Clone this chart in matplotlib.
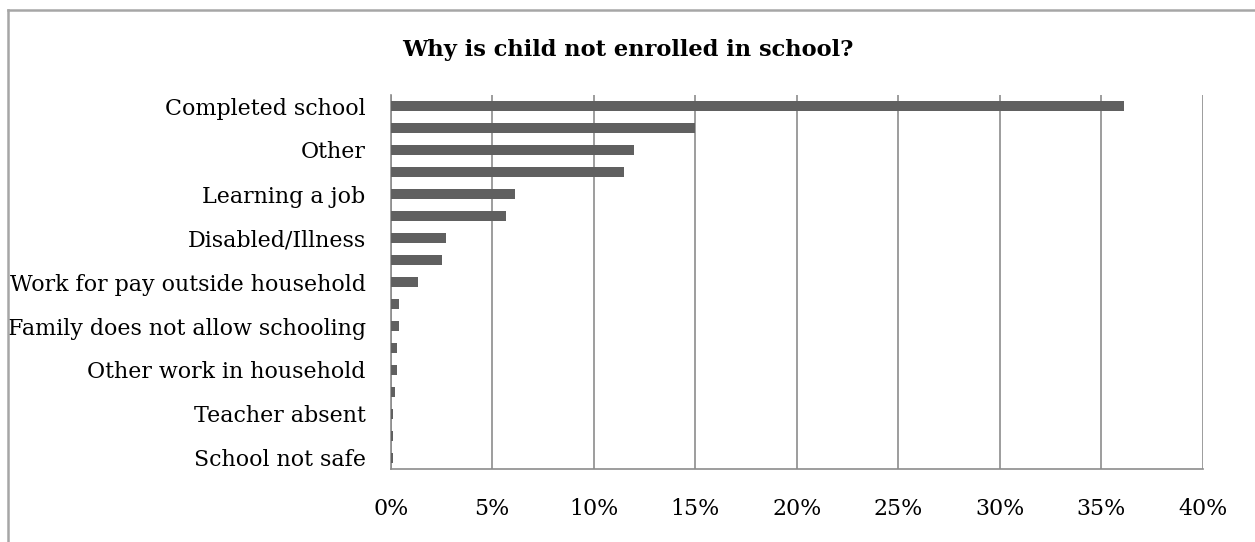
import matplotlib.pyplot as plt
from matplotlib.lines import Line2D
from matplotlib.ticker import FuncFormatter

# 数据（从上到下）
reasons = [
    "Completed school", "", "Other", "", "Learning a job", "",
    "Disabled/Illness", "", "Work for pay outside household", "",
    "Family does not allow schooling", "", "Other work in household", "",
    "Teacher absent", "", "School not safe",
]
shares = [36.1, 15.0, 12.0, 11.5, 6.1, 5.7, 2.7, 2.55, 1.35, 0.42,
          0.42, 0.32, 0.32, 0.21, 0.1, 0.1, 0.1]
x_ticks = [0, 5, 10, 15, 20, 25, 30, 35, 40]

BAR_COLOR = "#606060"
GRID_COLOR = "#8c8c8c"

plt.rcParams['font.family'] = ['DejaVu Serif']

fig = plt.figure(figsize=(12.55, 5.42), dpi=100)
ax = fig.add_axes([390.7 / 1255, 1 - 469 / 542, (1203 - 390.7) / 1255, (469 - 95) / 542])

ypos = list(range(len(shares)))
ax.barh(ypos, shares, height=0.42, color=BAR_COLOR, zorder=3)
ax.set_ylim(len(shares) - 0.5, -0.5)
ax.set_xlim(0, 40)

ax.set_yticks(ypos)
ax.set_yticklabels(reasons, fontsize=15.9)
ax.set_xticks(x_ticks)
ax.xaxis.set_major_formatter(FuncFormatter(lambda v, _: f"{v:.0f}%"))
ax.tick_params(axis='x', length=0, pad=21, labelsize=15.9)
ax.tick_params(axis='y', length=0, pad=18)

ax.grid(axis='x', color=GRID_COLOR, linewidth=1.2, zorder=0)
for side in ['top', 'right']:
    ax.spines[side].set_visible(False)
for side in ['left', 'bottom']:
    ax.spines[side].set_color(GRID_COLOR)
    ax.spines[side].set_linewidth(1.2)

fig.text(0.5, 1 - 50 / 542, "Why is child not enrolled in school?",
         ha='center', va='center', fontsize=16.2, fontweight='bold')

# 外框（只露出上边和左边）
bx, by = 7.7 / 1255, 1 - 10 / 542
fig.add_artist(Line2D([bx, 1.0], [by, by], color="#a6a6a6", linewidth=1.8))
fig.add_artist(Line2D([bx, bx], [by, 0.0], color="#a6a6a6", linewidth=1.8))

plt.savefig('out.png', dpi=100)
